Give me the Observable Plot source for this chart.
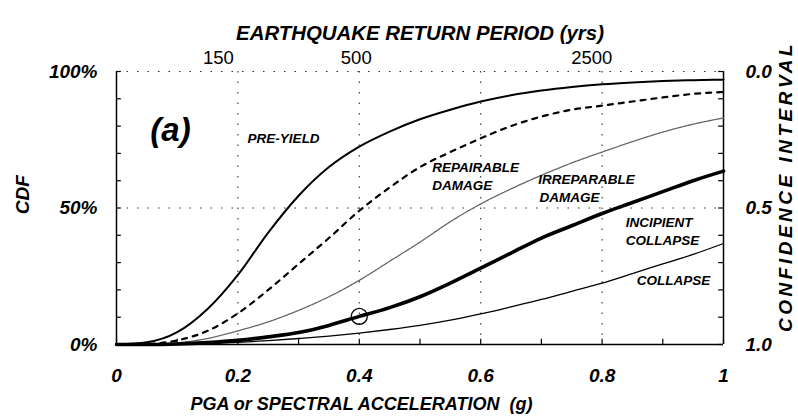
<!DOCTYPE html>
<html>
<head>
<meta charset="utf-8">
<script src="https://cdn.jsdelivr.net/npm/d3@7"></script>
<script src="https://cdn.jsdelivr.net/npm/@observablehq/plot@0.6"></script>
<style>
  html, body { margin: 0; padding: 0; background: #fff; }
  svg { display: block; }
</style>
</head>
<body>
<div id="chart"></div>
<script>
// PGA or spectral acceleration (g)
const pga = [0, 0.05, 0.1, 0.15, 0.2, 0.25, 0.3, 0.35, 0.4, 0.45, 0.5, 0.55, 0.6, 0.65, 0.7, 0.75, 0.8, 0.85, 0.9, 0.95, 1.0];
// CDF (%) per damage state
const preYield    = [0, 0.8, 4.5, 13, 25.5, 41, 54.5, 65, 72.5, 78, 82.5, 86, 89, 91.3, 93, 94.3, 95.3, 96, 96.5, 96.8, 97];
const repairable  = [0, 0.2, 1.5, 5, 11.4, 20, 29.5, 39, 49, 57.5, 65, 70.5, 75.5, 80, 83.5, 86, 87.5, 89, 90.5, 91.8, 92.5];
const irreparable = [0, 0.1, 0.6, 2.2, 5, 8.3, 12.5, 17.5, 23.5, 30.5, 37.5, 45, 51.5, 57, 62, 66.5, 70.5, 74.3, 77.8, 80.7, 83];
const incipient   = [0, 0, 0.2, 0.7, 1.5, 2.8, 4.4, 7, 10.3, 13.5, 17.5, 22.5, 28, 33.5, 39, 43.5, 48, 52, 56, 60, 63.5];
const collapse    = [0, 0, 0.1, 0.4, 0.8, 1.4, 2.2, 3.1, 4.2, 5.5, 7, 8.9, 11.2, 13.8, 16.5, 19.5, 22.5, 26, 29.5, 33, 37];

const seriesNames = ["PRE-YIELD", "REPAIRABLE DAMAGE", "IRREPARABLE DAMAGE", "INCIPIENT COLLAPSE", "COLLAPSE"];
const seriesValues = [preYield, repairable, irreparable, incipient, collapse];

// axis ticks
const xTicks = [0, 0.2, 0.4, 0.6, 0.8, 1];
const xMinorTicks = [0, 0.1, 0.2, 0.3, 0.4, 0.5, 0.6, 0.7, 0.8, 0.9, 1];
const cdfTicks = [0, 50, 100];
const cdfMinorTicks = [0, 10, 20, 30, 40, 50, 60, 70, 80, 90, 100];
const returnPeriods = ["150", "500", "2500"];
const returnPeriodAt = [0.168, 0.395, 0.783];
const gridX = [0.2, 0.4, 0.6, 0.8];
const gridY = [50, 100];

// curve labels (anchored in data space)
const curveLabels = [
  {text: "PRE-YIELD", x: 0.216, y: 75.5},
  {text: "REPAIRABLE", x: 0.52, y: 64.8},
  {text: "DAMAGE", x: 0.52, y: 58.2},
  {text: "IRREPARABLE", x: 0.695, y: 60.4},
  {text: "DAMAGE", x: 0.697, y: 53.8},
  {text: "INCIPIENT", x: 0.839, y: 44.7},
  {text: "COLLAPSE", x: 0.839, y: 38.1},
  {text: "COLLAPSE", x: 0.857, y: 23.4}
];
const panelLabel = [{text: "(a)", x: 0.089, y: 78.4}];
const sideTitles = [
  {text: "CDF", x: -0.155, y: 54.9},
  {text: "CONFIDENCE INTERVAL", x: 1.102, y: 57.9}
];

const table = seriesNames.flatMap((name, s) => pga.map((x, i) => ({name, x, y: seriesValues[s][i]})));
const of = name => table.filter(d => d.name === name);
const marked = [{x: 0.4, y: incipient[pga.indexOf(0.4)]}];

const font = "'Liberation Sans', Arial, Helvetica, sans-serif";
const bi = {fontWeight: "bold", fontStyle: "italic"};

const chart = Plot.plot({
  width: 798,
  height: 419,
  marginLeft: 116,
  marginRight: 75,
  marginTop: 71,
  marginBottom: 75,
  style: {fontFamily: font, color: "#000", background: "#fff"},
  x: {domain: [0, 1]},
  y: {domain: [0, 100]},
  marks: [
    // dotted grid
    Plot.ruleX(gridX, {stroke: "#333", strokeWidth: 1.1, strokeDasharray: "1.5,9"}),
    Plot.ruleY(gridY, {stroke: "#333", strokeWidth: 1.1, strokeDasharray: "1.5,9"}),
    // frame
    Plot.ruleX([0, 1], {stroke: "#000", strokeWidth: 1.5}),
    Plot.ruleY([0], {stroke: "#000", strokeWidth: 1.5}),
    // inward ticks
    Plot.ruleX(xMinorTicks, {y1: 0, y2: 1.9, stroke: "#000", strokeWidth: 1.2}),
    Plot.ruleY(cdfMinorTicks, {x1: 0, x2: 0.008, stroke: "#000", strokeWidth: 1.2}),
    Plot.ruleY(cdfMinorTicks, {x1: 0.992, x2: 1, stroke: "#000", strokeWidth: 1.2}),
    // axes
    Plot.axisX({anchor: "bottom", ticks: xTicks, tickFormat: d => String(d), tickSize: 0, tickPadding: 24, fontSize: 19, ...bi, label: null}),
    Plot.axisX({anchor: "top", ticks: returnPeriodAt, tickFormat: d => returnPeriods[returnPeriodAt.indexOf(d)], tickSize: 0, tickPadding: 8, fontSize: 18.5, label: null}),
    Plot.axisY({anchor: "left", ticks: cdfTicks, tickFormat: d => d + "%", tickSize: 0, tickPadding: 19, fontSize: 19, ...bi, label: null}),
    Plot.axisY({anchor: "right", ticks: cdfTicks, tickFormat: d => (1 - d / 100).toFixed(1), tickSize: 0, tickPadding: 22, fontSize: 19, ...bi, label: null}),
    // curves
    Plot.line(of("PRE-YIELD"), {x: "x", y: "y", curve: "monotone-x", stroke: "#000", strokeWidth: 2}),
    Plot.line(of("REPAIRABLE DAMAGE"), {x: "x", y: "y", curve: "monotone-x", stroke: "#000", strokeWidth: 2.2, strokeDasharray: "5,6"}),
    Plot.line(of("IRREPARABLE DAMAGE"), {x: "x", y: "y", curve: "monotone-x", stroke: "#666", strokeWidth: 1.3, strokeDasharray: "3,1"}),
    Plot.line(of("INCIPIENT COLLAPSE"), {x: "x", y: "y", curve: "monotone-x", stroke: "#000", strokeWidth: 3.6}),
    Plot.line(of("COLLAPSE"), {x: "x", y: "y", curve: "monotone-x", stroke: "#000", strokeWidth: 1.3}),
    Plot.dot(marked, {x: "x", y: "y", r: 8, stroke: "#000", fill: "none", strokeWidth: 1.3}),
    // labels
    Plot.text(curveLabels, {x: "x", y: "y", text: "text", textAnchor: "start", fontSize: 13.5, ...bi, fill: "#000"}),
    Plot.text(panelLabel, {x: "x", y: "y", text: "text", fontSize: 33, ...bi, fill: "#000"}),
    // titles
    Plot.text(["EARTHQUAKE RETURN PERIOD (yrs)"], {frameAnchor: "top", textAnchor: "middle", dy: -45.5, fontSize: 20.4, ...bi, fill: "#000"}),
    Plot.text(["PGA or SPECTRAL ACCELERATION  (g)"], {frameAnchor: "bottom-left", textAnchor: "start", dx: 74, dy: 65.5, fontSize: 18, ...bi, fill: "#000"}),
    Plot.text(sideTitles, {x: "x", y: "y", text: "text", textAnchor: "middle", rotate: -90, fontSize: 19, ...bi, fill: "#000"})
  ]
});
chart.querySelectorAll("text").forEach(t => { if (t.textContent === "CONFIDENCE INTERVAL") t.setAttribute("letter-spacing", "3.5"); });
document.getElementById("chart").appendChild(chart);
</script>
</body>
</html>
